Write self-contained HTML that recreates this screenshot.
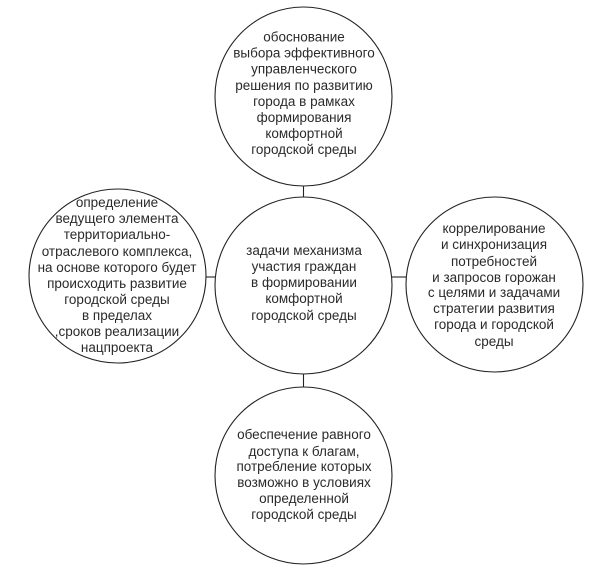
<!DOCTYPE html>
<html><head><meta charset="utf-8"><style>
html,body{margin:0;padding:0;background:#fff;}
svg{display:block}
text{font-family:"Liberation Sans",sans-serif;font-size:13.5px;fill:#2a2a2a;text-anchor:middle;}
</style></head><body>
<svg width="600" height="568" viewBox="0 0 600 568" xmlns="http://www.w3.org/2000/svg">
<g fill="none" stroke="#222" stroke-width="1.1">
<ellipse cx="303.5" cy="96.5" rx="88.5" ry="89.5"/>
<ellipse cx="303.5" cy="285.5" rx="88.5" ry="88.5"/>
<ellipse cx="303.5" cy="475.5" rx="88.5" ry="88.5"/>
<ellipse cx="117.5" cy="276" rx="88.5" ry="87"/>
<ellipse cx="494.5" cy="284.5" rx="88.5" ry="87.5"/>
<line x1="303.5" y1="186" x2="303.5" y2="197"/>
<line x1="303.5" y1="374" x2="303.5" y2="387"/>
<line x1="206" y1="277" x2="215" y2="277"/>
<line x1="392" y1="277" x2="406" y2="277"/>
</g>
<g>
<text x="304" y="41.5">обоснование</text>
<text x="304" y="57.5">выбора эффективного</text>
<text x="304" y="73.5">управленческого</text>
<text x="304" y="90">решения по развитию</text>
<text x="304" y="106">города в рамках</text>
<text x="304" y="122">формирования</text>
<text x="304" y="138">комфортной</text>
<text x="304" y="154">городской среды</text>

<text x="304" y="255">задачи механизма</text>
<text x="304" y="271">участия граждан</text>
<text x="304" y="287">в формировании</text>
<text x="304" y="303">комфортной</text>
<text x="304" y="320">городской среды</text>

<text x="117" y="207">определение</text>
<text x="117" y="223">ведущего элемента</text>
<text x="117" y="239">территориально-</text>
<text x="117" y="256">отраслевого комплекса,</text>
<text x="117" y="272">на основе которого будет</text>
<text x="117" y="288">происходить развитие</text>
<text x="117" y="304">городской среды</text>
<text x="117" y="320">в пределах</text>
<text x="117" y="336">,сроков реализации</text>
<text x="117" y="352">нацпроекта</text>

<text x="494" y="233">коррелирование</text>
<text x="494" y="249">и синхронизация</text>
<text x="494" y="266">потребностей</text>
<text x="494" y="282">и запросов горожан</text>
<text x="494" y="297">с целями и задачами</text>
<text x="494" y="313">стратегии развития</text>
<text x="494" y="329">города и городской</text>
<text x="494" y="346">среды</text>

<text x="304" y="439">обеспечение равного</text>
<text x="304" y="456">доступа к благам,</text>
<text x="304" y="471">потребление которых</text>
<text x="304" y="487">возможно в условиях</text>
<text x="304" y="503">определенной</text>
<text x="304" y="519">городской среды</text>
</g>
</svg>
</body></html>
